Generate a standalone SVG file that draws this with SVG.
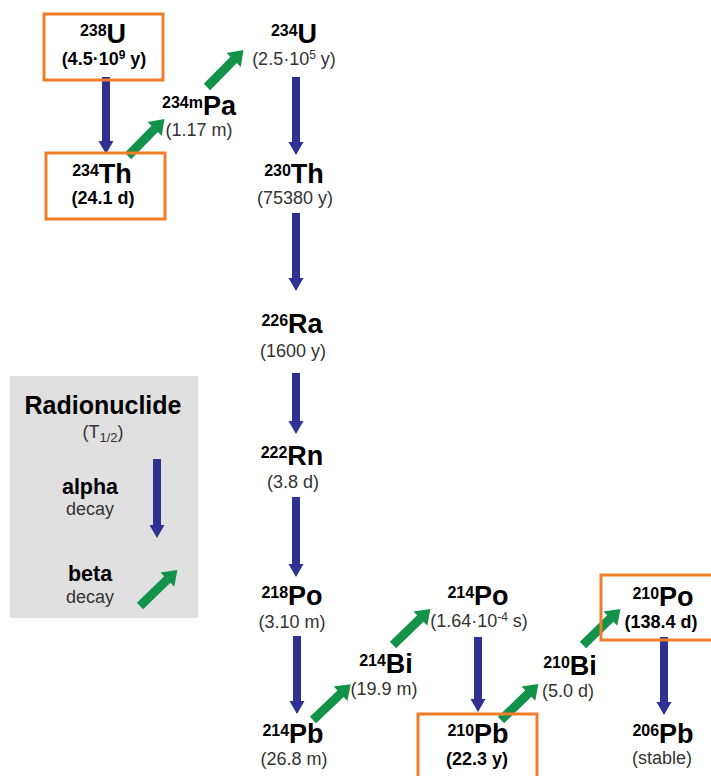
<svg xmlns="http://www.w3.org/2000/svg" xmlns:xlink="http://www.w3.org/1999/xlink" width="711" height="776" viewBox="0 0 711 776">
  <style>
    text { font-family: "Liberation Sans", Arial, sans-serif; text-anchor: middle; }
    .name { font-size: 27px; font-weight: bold; fill: #000; }
    .sup { font-size: 16px; }
    .hl { font-size: 18px; fill: #333; }
    .hlb { font-size: 18px; font-weight: bold; fill: #000; }
    .hsup { font-size: 12px; }
    .box { fill: none; stroke: #F07D2A; stroke-width: 3; }
    .alpha { fill: #2E3192; }
    .beta { fill: #13924A; }
    .lgtitle { font-size: 25px; font-weight: bold; fill: #000; }
    .lgterm { font-size: 21.5px; font-weight: bold; fill: #000; }
    .lgsub { font-size: 18px; fill: #333; }
  </style>
  <defs>
    <!-- beta arrow along +x, tail at origin -->
    <path id="betaArrow" d="M0,-4.5 H38 V-10 L52,0 L38,10 V4.5 H0 Z"/>
  </defs>

  <rect width="711" height="776" fill="#fff"/>

  <!-- legend -->
  <g id="legend">
    <rect x="10" y="376" width="188" height="242" fill="#E0E0E0"/>
    <text class="lgtitle" x="103" y="414">Radionuclide</text>
    <text class="lgsub" x="103" y="438">(T<tspan font-size="13" dy="4">1/2</tspan><tspan dy="-4">)</tspan></text>
    <text class="lgterm" x="90" y="494">alpha</text>
    <text class="lgsub" x="90" y="515">decay</text>
    <text class="lgterm" x="90" y="581">beta</text>
    <text class="lgsub" x="90" y="603">decay</text>
    <polygon class="alpha" points="153,459 161,459 161,525 164.5,525 157,538 149.5,525 153,525"/>
    <use xlink:href="#betaArrow" class="beta" transform="translate(140,606) rotate(-44)"/>
  </g>

  <!-- decay connectors -->
  <g id="connectors">
    <!-- alpha decays -->
    <polygon class="alpha" points="102,77 110,77 110,141 113.5,141 106,154 98.5,141 102,141"/>
    <polygon class="alpha" points="292,77 300,77 300,142 303.5,142 296,155 288.5,142 292,142"/>
    <polygon class="alpha" points="292,213 300,213 300,278 303.5,278 296,291 288.5,278 292,278"/>
    <polygon class="alpha" points="292,373 300,373 300,421 303.5,421 296,434 288.5,421 292,421"/>
    <polygon class="alpha" points="292,497 300,497 300,564 303.5,564 296,577 288.5,564 292,564"/>
    <polygon class="alpha" points="293,636 301,636 301,701 304.5,701 297,714 289.5,701 293,701"/>
    <polygon class="alpha" points="474,637 482,637 482,699 485.5,699 478,712 470.5,699 474,699"/>
    <polygon class="alpha" points="660,637 668,637 668,702 671.5,702 664,715 656.5,702 660,702"/>
    <!-- beta decays -->
    <use xlink:href="#betaArrow" class="beta" transform="translate(128,156) rotate(-45.5)"/>
    <use xlink:href="#betaArrow" class="beta" transform="translate(207,87) rotate(-45.5)"/>
    <use xlink:href="#betaArrow" class="beta" transform="translate(313,720) rotate(-43.5)"/>
    <use xlink:href="#betaArrow" class="beta" transform="translate(393,645) rotate(-44)"/>
    <use xlink:href="#betaArrow" class="beta" transform="translate(501,720) rotate(-44)"/>
    <use xlink:href="#betaArrow" class="beta" transform="translate(583,645) rotate(-44)"/>
  </g>

  <!-- nuclides -->
  <g id="U238">
    <rect class="box" x="44" y="14" width="119" height="66"/>
    <text class="name" x="103" y="43"><tspan class="sup" dy="-7">238</tspan><tspan dy="7">U</tspan></text>
    <text class="hlb" x="104" y="65">(4.5·10<tspan class="hsup" dy="-6">9</tspan><tspan dy="6"> y)</tspan></text>
  </g>
  <g id="Th234">
    <rect class="box" x="46" y="153" width="119" height="66"/>
    <text class="name" x="102" y="183"><tspan class="sup" dy="-7">234</tspan><tspan dy="7">Th</tspan></text>
    <text class="hlb" x="103" y="204">(24.1 d)</text>
  </g>
  <g id="Pa234m">
    <text class="name" x="199" y="115"><tspan class="sup" dy="-7">234m</tspan><tspan dy="7">Pa</tspan></text>
    <text class="hl" x="199" y="136">(1.17 m)</text>
  </g>
  <g id="U234">
    <text class="name" x="294" y="43"><tspan class="sup" dy="-7">234</tspan><tspan dy="7">U</tspan></text>
    <text class="hl" x="294" y="65">(2.5·10<tspan class="hsup" dy="-6">5</tspan><tspan dy="6"> y)</tspan></text>
  </g>
  <g id="Th230">
    <text class="name" x="294" y="183"><tspan class="sup" dy="-7">230</tspan><tspan dy="7">Th</tspan></text>
    <text class="hl" x="295" y="204">(75380 y)</text>
  </g>
  <g id="Ra226">
    <text class="name" x="292" y="333"><tspan class="sup" dy="-7">226</tspan><tspan dy="7">Ra</tspan></text>
    <text class="hl" x="293" y="357">(1600 y)</text>
  </g>
  <g id="Rn222">
    <text class="name" x="292" y="465"><tspan class="sup" dy="-7">222</tspan><tspan dy="7">Rn</tspan></text>
    <text class="hl" x="293" y="488">(3.8 d)</text>
  </g>
  <g id="Po218">
    <text class="name" x="292" y="605"><tspan class="sup" dy="-7">218</tspan><tspan dy="7">Po</tspan></text>
    <text class="hl" x="292" y="628">(3.10 m)</text>
  </g>
  <g id="Pb214">
    <text class="name" x="293" y="743"><tspan class="sup" dy="-7">214</tspan><tspan dy="7">Pb</tspan></text>
    <text class="hl" x="294" y="765">(26.8 m)</text>
  </g>
  <g id="Bi214">
    <text class="name" x="386" y="673"><tspan class="sup" dy="-7">214</tspan><tspan dy="7">Bi</tspan></text>
    <text class="hl" x="384" y="695">(19.9 m)</text>
  </g>
  <g id="Po214">
    <text class="name" x="478" y="605"><tspan class="sup" dy="-7">214</tspan><tspan dy="7">Po</tspan></text>
    <text class="hl" x="479" y="627">(1.64·10<tspan class="hsup" dy="-6">-4</tspan><tspan dy="6"> s)</tspan></text>
  </g>
  <g id="Pb210">
    <rect class="box" x="418" y="714" width="119" height="80"/>
    <text class="name" x="478" y="743"><tspan class="sup" dy="-7">210</tspan><tspan dy="7">Pb</tspan></text>
    <text class="hlb" x="477" y="765">(22.3 y)</text>
  </g>
  <g id="Bi210">
    <text class="name" x="570" y="675"><tspan class="sup" dy="-7">210</tspan><tspan dy="7">Bi</tspan></text>
    <text class="hl" x="568" y="697">(5.0 d)</text>
  </g>
  <g id="Po210">
    <rect class="box" x="601" y="575" width="130" height="65"/>
    <text class="name" x="663" y="606"><tspan class="sup" dy="-7">210</tspan><tspan dy="7">Po</tspan></text>
    <text class="hlb" x="661" y="628">(138.4 d)</text>
  </g>
  <g id="Pb206">
    <text class="name" x="663" y="743"><tspan class="sup" dy="-7">206</tspan><tspan dy="7">Pb</tspan></text>
    <text class="hl" x="662" y="764">(stable)</text>
  </g>
</svg>
